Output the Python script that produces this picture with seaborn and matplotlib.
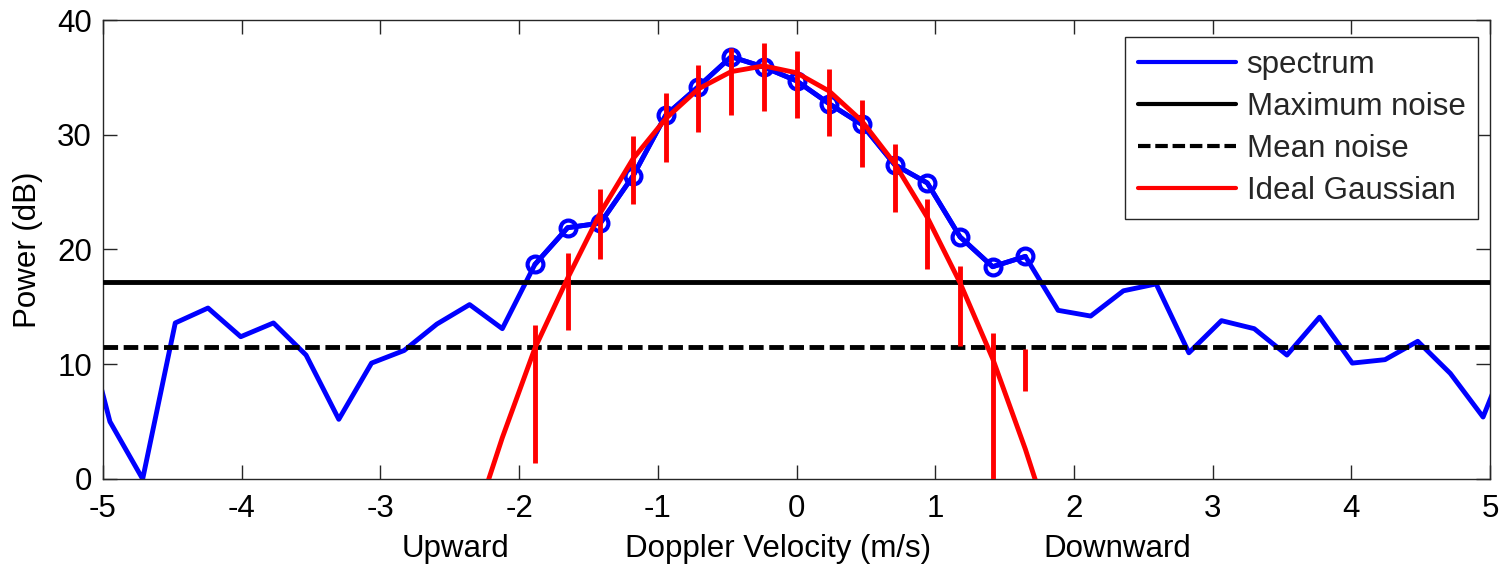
import numpy as np
import pandas as pd
import matplotlib
matplotlib.use("Agg")
import matplotlib.pyplot as plt
import seaborn as sns

# Doppler velocity bins (m/s)
velocity = [-5.186, -4.950, -4.714, -4.479, -4.243, -4.007, -3.771, -3.536,
            -3.300, -3.064, -2.829, -2.593, -2.357, -2.121, -1.886, -1.650,
            -1.414, -1.179, -0.943, -0.707, -0.471, -0.236, 0.000, 0.236,
            0.471, 0.707, 0.943, 1.179, 1.414, 1.650, 1.886, 2.121,
            2.357, 2.593, 2.829, 3.064, 3.300, 3.536, 3.771, 4.007,
            4.243, 4.479, 4.714, 4.950, 5.186]

# Measured spectrum power (dB)
spectrum_db = [16.0, 5.0, 0.0, 13.6, 14.9, 12.4, 13.6, 10.8,
               5.2, 10.1, 11.2, 13.5, 15.2, 13.1, 18.7, 21.9,
               22.3, 26.4, 31.7, 34.2, 36.8, 35.9, 34.7, 32.7,
               30.9, 27.4, 25.8, 21.1, 18.5, 19.4, 14.7, 14.2,
               16.4, 17.0, 11.0, 13.8, 13.1, 10.8, 14.1, 10.1,
               10.4, 12.0, 9.2, 5.4, 12.5]

# Signal bins above the noise threshold (circled)
signal_velocity = velocity[14:30]
signal_db = spectrum_db[14:30]

# Fitted Gaussian, evaluated on the bins around the peak (dB)
gauss_velocity = velocity[12:31]
gauss_db = [-5.1, 3.6, 11.4, 17.5, 23.2, 27.9, 31.4, 34.0, 35.5, 36.0,
            35.4, 33.8, 31.2, 27.5, 22.8, 17.1, 10.5, 2.6, -6.2]

# Uncertainty range of each signal bin (dB)
err_velocity = velocity[14:30]
err_low_db = [1.4, 13.0, 19.2, 24.0, 27.6, 30.2, 31.7, 32.1,
              31.5, 29.9, 27.2, 23.3, 18.3, 11.6, -5.0, 7.7]
err_high_db = [13.4, 19.7, 25.3, 29.9, 33.6, 36.1, 37.6, 38.0,
               37.3, 35.7, 33.0, 29.2, 24.4, 18.6, 12.7, 11.35]

max_noise_db = 17.2
mean_noise_db = 11.5

x_ticks = [-5, -4, -3, -2, -1, 0, 1, 2, 3, 4, 5]
x_tick_labels = ["-5", "-4", "-3", "-2", "-1", "0", "1", "2", "3", "4", "5"]
y_ticks = [0, 10, 20, 30, 40]
y_tick_labels = ["0", "10", "20", "30", "40"]

sns.set_theme(style="ticks")
plt.rcParams["font.family"] = ["Liberation Sans", "DejaVu Sans"]
plt.rcParams["axes.edgecolor"] = "#262626"
plt.rcParams["axes.linewidth"] = 1.0

FS = 22.5
LW = 3.5
BLUE = "#0000ff"
RED = "#ff0000"

fig = plt.figure(figsize=(15.04, 5.66), dpi=100)
fig.patch.set_facecolor("white")
ax = fig.add_axes([103 / 1504, 1 - 479 / 566, 1387 / 1504, 459 / 566])

spec_df = pd.DataFrame({"velocity": velocity, "power": spectrum_db})
sig_df = pd.DataFrame({"velocity": signal_velocity, "power": signal_db})
gauss_df = pd.DataFrame({"velocity": gauss_velocity, "power": gauss_db})

sns.lineplot(data=spec_df, x="velocity", y="power", ax=ax, color=BLUE,
             lw=LW, sort=False, estimator=None, label="spectrum", zorder=2)
sns.lineplot(data=sig_df, x="velocity", y="power", ax=ax, color=BLUE,
             lw=LW, sort=False, estimator=None, marker="o", ms=11.4,
             mfc="none", mec=BLUE, mew=3.0, legend=False, zorder=2)

ax.axhline(max_noise_db, color="black", lw=LW, label="Maximum noise", zorder=3)
ax.axhline(mean_noise_db, color="black", lw=LW, ls=(0, (3.0, 1.15)),
           label="Mean noise", zorder=3)

sns.lineplot(data=gauss_df, x="velocity", y="power", ax=ax, color=RED,
             lw=LW, sort=False, estimator=None, label="Ideal Gaussian", zorder=4)
ax.vlines(err_velocity, err_low_db, err_high_db, colors=RED, lw=LW, zorder=4)

ax.set_xlim(-5, 5)
ax.set_ylim(0, 40)
ax.set_xticks(x_ticks)
ax.set_xticklabels(x_tick_labels)
ax.set_yticks(y_ticks)
ax.set_yticklabels(y_tick_labels)
ax.tick_params(axis="both", direction="in", length=10, width=1.0,
               colors="#262626", labelcolor="black", labelsize=FS,
               top=True, right=True)
ax.tick_params(axis="x", pad=11)
ax.tick_params(axis="y", pad=8)
for side in ["top", "right", "bottom", "left"]:
    ax.spines[side].set_visible(True)

ax.set_xlabel("")
ax.set_ylabel("Power (dB)", fontsize=FS, color="black")
ax.yaxis.set_label_coords(-0.0433, 0.5)

label_y = (479 - 557) / 459
ax.text(0.2538, label_y, "Upward", transform=ax.transAxes, ha="center",
        va="baseline", fontsize=FS, color="black")
ax.text(0.4867, label_y, "Doppler Velocity (m/s)", transform=ax.transAxes,
        ha="center", va="baseline", fontsize=FS, color="black")
ax.text(0.731, label_y, "Downward", transform=ax.transAxes, ha="center",
        va="baseline", fontsize=FS, color="black")

leg = ax.legend(loc="upper right", bbox_to_anchor=(1478 / 1504, 1 - 37 / 566),
                bbox_transform=fig.transFigure, borderaxespad=0,
                fontsize=FS, handlelength=3.14, handletextpad=0.35,
                labelspacing=0.39, borderpad=0.4, fancybox=False,
                framealpha=1, edgecolor="#262626")
leg.get_frame().set_linewidth(1.0)
for h in leg.get_lines():
    h.set_linewidth(3.0)

fig.savefig("out.png", dpi=100, facecolor="white")
